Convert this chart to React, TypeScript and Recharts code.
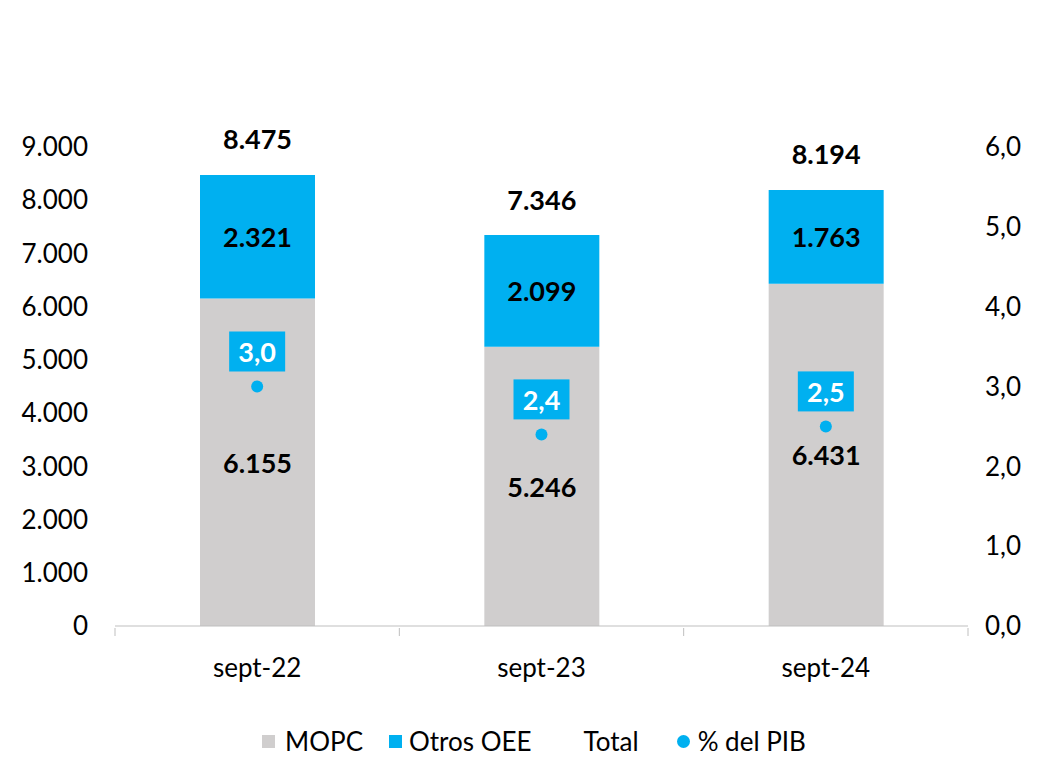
import React from "react";
import {
  ComposedChart,
  Bar,
  Line,
  XAxis,
  YAxis,
  Legend,
  LabelList
} from "recharts";

const categories = ["sept-22", "sept-23", "sept-24"];
const mopc = [6155, 5246, 6431];
const otros = [2321, 2099, 1763];
const totals = [8475, 7346, 8194];
const pibPct = [3.0, 2.4, 2.5];

const leftTicks = [0, 1000, 2000, 3000, 4000, 5000, 6000, 7000, 8000, 9000];
const rightTicks = [0, 1, 2, 3, 4, 5, 6];

const GRAY = "#D0CECE";
const BLUE = "#00B0F0";
const FONT = "Lato, 'Open Sans', sans-serif";

const data = categories.map((name, i) => ({
  name,
  mopc: mopc[i],
  otros: otros[i],
  total: totals[i],
  pib: pibPct[i]
}));

const fmtThousands = (v: number) =>
  String(Math.round(v)).replace(/\B(?=(\d{3})+(?!\d))/g, ".");
const fmtDec = (v: number) => v.toFixed(1).replace(".", ",");

const CHART_W = 1038;
const CHART_H = 757;
const LEFT_W = 115;
const RIGHT_W = 70;
const BAND = (CHART_W - LEFT_W - RIGHT_W) / categories.length;

const CenterLabel = (props: any) => {
  const { x, y, width, height, value } = props;
  return (
    <text
      x={x + width / 2}
      y={y + height / 2}
      textAnchor="middle"
      dominantBaseline="central"
      fontFamily={FONT}
      fontWeight={700}
      fontSize={27}
      fill="#000"
    >
      {fmtThousands(value)}
    </text>
  );
};

const TotalLabel = (props: any) => {
  const { x, y, width, value } = props;
  return (
    <text
      x={x + width / 2}
      y={y - 36}
      textAnchor="middle"
      dominantBaseline="central"
      fontFamily={FONT}
      fontWeight={700}
      fontSize={27}
      fill="#000"
    >
      {fmtThousands(value)}
    </text>
  );
};

const PibLabel = (props: any) => {
  const { x, y, value } = props;
  const w = 56;
  const h = 40;
  return (
    <g>
      <rect x={x - w / 2} y={y - 35 - h / 2} width={w} height={h} fill={BLUE} />
      <text
        x={x}
        y={y - 35}
        textAnchor="middle"
        dominantBaseline="central"
        fontFamily={FONT}
        fontWeight={700}
        fontSize={27}
        fill="#fff"
      >
        {fmtDec(value)}
      </text>
    </g>
  );
};

const XTick = (props: any) => {
  const { x, y, payload, index } = props;
  const axisY = y - 8;
  return (
    <g>
      <line x1={x - BAND / 2} y1={axisY} x2={x - BAND / 2} y2={axisY + 8} stroke="#BFBFBF" />
      {index === categories.length - 1 && (
        <line x1={x + BAND / 2} y1={axisY} x2={x + BAND / 2} y2={axisY + 8} stroke="#BFBFBF" />
      )}
      <text
        x={x}
        y={axisY + 39}
        textAnchor="middle"
        dominantBaseline="central"
        fontFamily={FONT}
        fontSize={26}
        fill="#000"
      >
        {payload.value}
      </text>
    </g>
  );
};

const LegendContent = () => {
  const item = {
    display: "flex",
    alignItems: "center",
    whiteSpace: "nowrap",
    height: 31
  } as const;
  const box = (color: string, round = false, gap = 9) => (
    <span
      style={{
        width: 13,
        height: 13,
        background: color,
        borderRadius: round ? 7 : 0,
        marginRight: gap,
        flexShrink: 0
      }}
    />
  );
  return (
    <div
      style={{
        display: "flex",
        justifyContent: "center",
        paddingLeft: 30,
        fontFamily: FONT,
        fontSize: 26,
        lineHeight: "31px",
        height: 31,
        color: "#000"
      }}
    >
      <div style={{ ...item, marginRight: 26 }}>
        {box(GRAY, false, 10)}
        <span>MOPC</span>
      </div>
      <div style={{ ...item, marginRight: 52 }}>
        {box(BLUE, false, 7)}
        <span>Otros OEE</span>
      </div>
      <div style={{ ...item, marginRight: 38 }}>
        <span>Total</span>
      </div>
      <div style={item}>
        {box(BLUE, true, 8)}
        <span>% del PIB</span>
      </div>
    </div>
  );
};

export default function App() {
  return (
    <div style={{ position: "absolute", left: 0, top: 0, background: "#fff" }}>
      <ComposedChart
        width={CHART_W}
        height={CHART_H}
        data={data}
        margin={{ top: 147, right: 0, left: 0, bottom: 0 }}
        barCategoryGap={0}
      >
        <XAxis
          dataKey="name"
          height={100}
          axisLine={{ stroke: "#BFBFBF" }}
          tickLine={false}
          tickSize={8}
          tick={<XTick />}
          interval={0}
        />
        <YAxis
          yAxisId="left"
          width={LEFT_W}
          domain={[0, 9000]}
          ticks={leftTicks}
          axisLine={false}
          tickLine={false}
          tickSize={0}
          tickMargin={27}
          tickFormatter={fmtThousands}
          tick={{ fontFamily: FONT, fontSize: 26, fill: "#000" }}
        />
        <YAxis
          yAxisId="right"
          orientation="right"
          width={RIGHT_W}
          domain={[0, 6]}
          ticks={rightTicks}
          axisLine={false}
          tickLine={false}
          tickSize={0}
          tickMargin={17}
          tickFormatter={fmtDec}
          tick={{ fontFamily: FONT, fontSize: 26, fill: "#000", textAnchor: "start" }}
        />
        <Legend verticalAlign="bottom" content={<LegendContent />} />
        <Bar
          yAxisId="left"
          dataKey="mopc"
          stackId="a"
          fill={GRAY}
          barSize={115}
          isAnimationActive={false}
        >
          <LabelList dataKey="mopc" content={<CenterLabel />} />
        </Bar>
        <Bar
          yAxisId="left"
          dataKey="otros"
          stackId="a"
          fill={BLUE}
          barSize={115}
          isAnimationActive={false}
        >
          <LabelList dataKey="otros" content={<CenterLabel />} />
          <LabelList dataKey="total" content={<TotalLabel />} />
        </Bar>
        <Line
          yAxisId="right"
          dataKey="pib"
          stroke="none"
          dot={{ r: 6, fill: BLUE, stroke: "none" }}
          activeDot={false}
          isAnimationActive={false}
        >
          <LabelList dataKey="pib" content={<PibLabel />} />
        </Line>
      </ComposedChart>
    </div>
  );
}
